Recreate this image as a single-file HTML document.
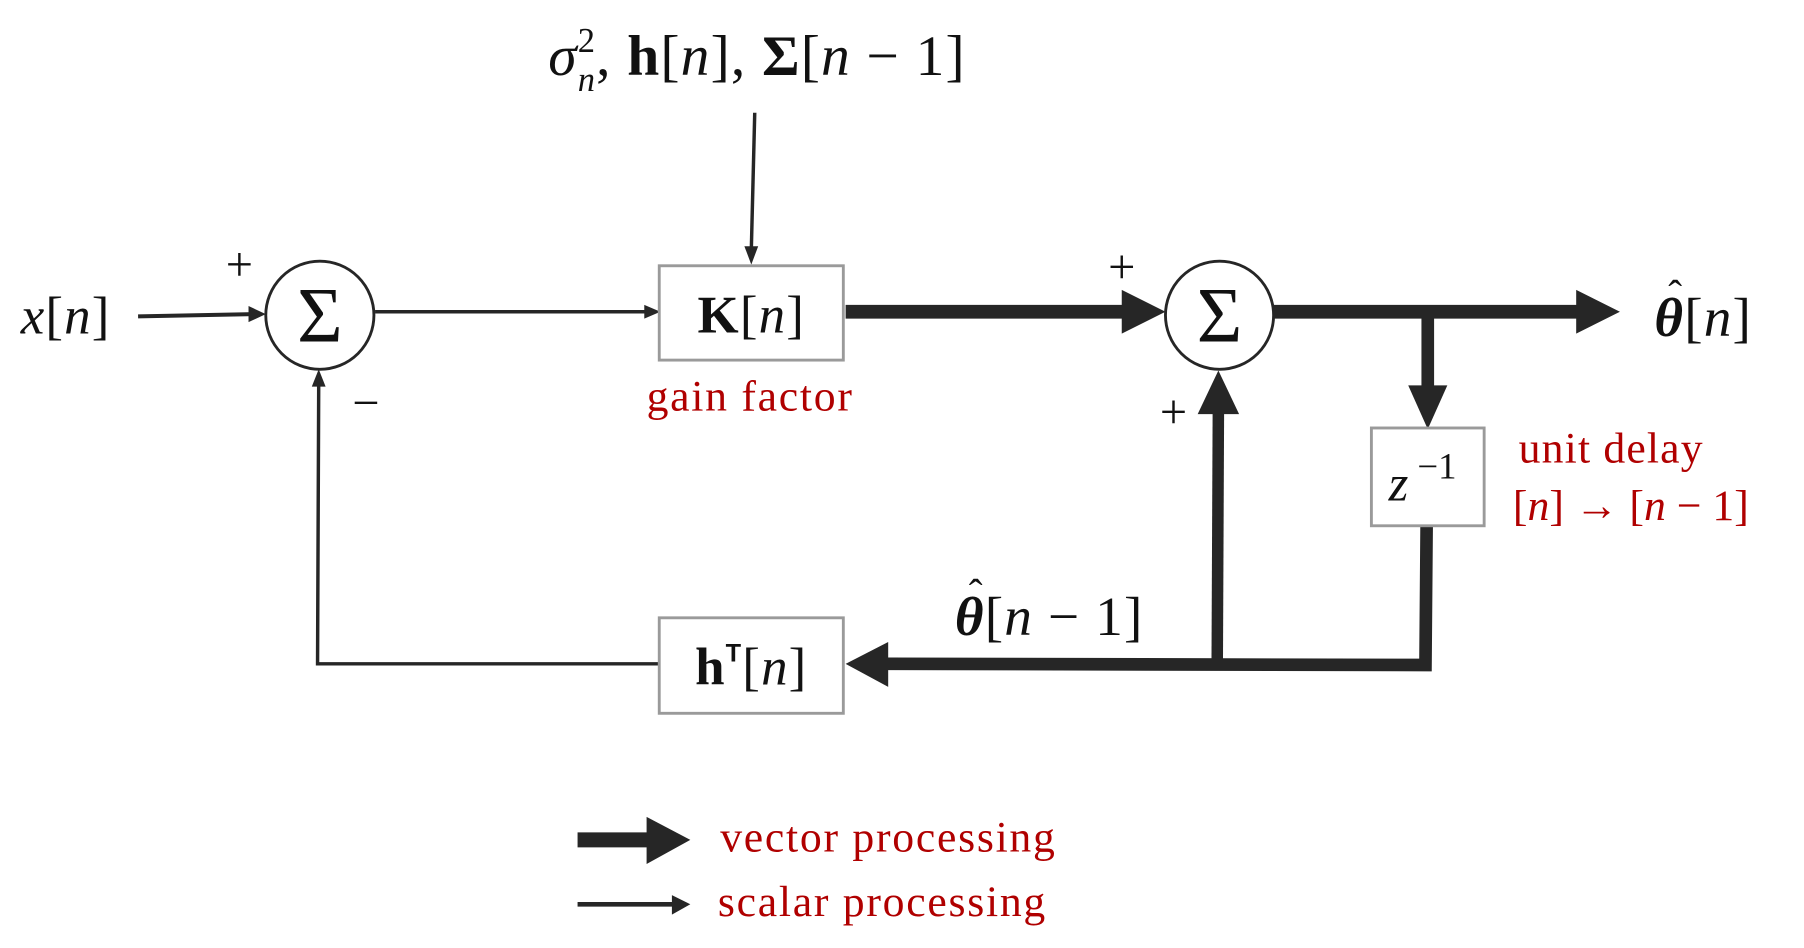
<!DOCTYPE html>
<html><head><meta charset="utf-8"><style>
html,body{margin:0;padding:0;background:#fff;}
svg{display:block;}
text{font-family:"Liberation Serif","DejaVu Serif",serif;}
.i{font-style:italic;}
.r{fill:#b00000;}
</style></head><body>
<svg width="1804" height="948" viewBox="0 0 1568 824" xmlns="http://www.w3.org/2000/svg">
<g fill="#111">
<text x="658" y="65" font-size="50" text-anchor="middle" letter-spacing="1"><tspan class="i">σ</tspan><tspan font-size="30" dy="-20">2</tspan><tspan font-size="30" class="i" dx="-16" dy="34">n</tspan><tspan dy="-14">, </tspan><tspan font-weight="bold">h</tspan>[<tspan class="i">n</tspan>], <tspan font-weight="bold">Σ</tspan>[<tspan class="i">n</tspan> − 1]</text>
</g>
<g stroke="#262626" fill="none">
<line x1="656" y1="98" x2="653" y2="218" stroke-width="3"/>
<line x1="120" y1="275" x2="220" y2="273" stroke-width="3.5"/>
<line x1="326" y1="271" x2="563" y2="271" stroke-width="3"/>
<line x1="735" y1="271" x2="980" y2="271" stroke-width="12"/>
<line x1="1107" y1="271" x2="1375" y2="271" stroke-width="12"/>
<line x1="1241" y1="271" x2="1241" y2="338" stroke-width="11"/>
<polyline points="1240,457 1239,578 770,577" stroke-width="11"/>
<line x1="1058" y1="575" x2="1059" y2="355" stroke-width="10"/>
<polyline points="573,577 276,577 277,334" stroke-width="3"/>
<line x1="502" y1="730" x2="565" y2="730" stroke-width="13"/>
<line x1="502" y1="786" x2="585" y2="786" stroke-width="4"/>
</g>
<g fill="#262626">
<polygon points="647,214 659,214 653,230"/>
<polygon points="216,266 216,280 231,273"/>
<polygon points="560,265 560,277 574,271"/>
<polygon points="975,252 975,290 1013,271"/>
<polygon points="1370,252 1370,290 1408,271"/>
<polygon points="1224,335 1258,335 1241,373"/>
<polygon points="772,558 772,597 735,577"/>
<polygon points="1041,360 1077,360 1059,322"/>
<polygon points="271,336 283,336 277,321"/>
<polygon points="562,710 562,751 600,730"/>
<polygon points="584,778 584,795 600,786"/>
</g>
<circle cx="278" cy="274" r="47" fill="#fff" stroke="#262626" stroke-width="2.5"/>
<circle cx="1060" cy="274" r="47" fill="#fff" stroke="#262626" stroke-width="2.5"/>
<text x="278" y="297" font-size="68" text-anchor="middle" fill="#111">Σ</text>
<text x="1060" y="297" font-size="68" text-anchor="middle" fill="#111">Σ</text>
<rect x="573" y="231" width="160" height="82" fill="#fff" stroke="#9a9a9a" stroke-width="2.5"/>
<rect x="573" y="537" width="160" height="83" fill="#fff" stroke="#9a9a9a" stroke-width="2.5"/>
<rect x="1192" y="372" width="98" height="85" fill="#fff" stroke="#9a9a9a" stroke-width="2.5"/>
<g fill="#111">
<text x="653" y="289" font-size="46" text-anchor="middle" letter-spacing="1"><tspan font-weight="bold">K</tspan>[<tspan class="i">n</tspan>]</text>
<text x="653" y="595" font-size="46" text-anchor="middle" letter-spacing="1"><tspan font-weight="bold">h</tspan><tspan font-size="22" font-family="Liberation Sans" font-weight="bold" dy="-20">T</tspan><tspan dy="20">[</tspan><tspan class="i">n</tspan>]</text>
<text x="1207" y="435" font-size="44" class="i">z</text>
<text x="1232" y="416" font-size="32">−1</text>
<text x="18" y="290" font-size="46" letter-spacing="1"><tspan class="i">x</tspan>[<tspan class="i">n</tspan>]</text>
<text x="1438" y="292" font-size="48" letter-spacing="1"><tspan class="i" font-weight="bold">θ</tspan>[<tspan class="i">n</tspan>]</text>
<text x="1450" y="268" font-size="36">ˆ</text>
<text x="830" y="552" font-size="48" letter-spacing="1"><tspan class="i" font-weight="bold">θ</tspan>[<tspan class="i">n</tspan> − 1]</text>
<text x="842" y="528" font-size="36">ˆ</text>
<text x="208" y="244" font-size="42" text-anchor="middle">+</text>
<text x="975" y="246" font-size="42" text-anchor="middle">+</text>
<text x="1020" y="372" font-size="42" text-anchor="middle">+</text>
<text x="318" y="364" font-size="42" text-anchor="middle">−</text>
</g>
<g class="r" fill="#b00000">
<text x="652" y="357" font-size="38" text-anchor="middle" letter-spacing="1.5">gain factor</text>
<text x="1320" y="402" font-size="38" letter-spacing="1">unit delay</text>
<text x="1315" y="452" font-size="38">[<tspan class="i">n</tspan>] → [<tspan class="i">n</tspan> − 1]</text>
<text x="626" y="740" font-size="38" letter-spacing="1.5">vector processing</text>
<text x="624" y="796" font-size="38" letter-spacing="1.5">scalar processing</text>
</g>
</svg>
</body></html>
